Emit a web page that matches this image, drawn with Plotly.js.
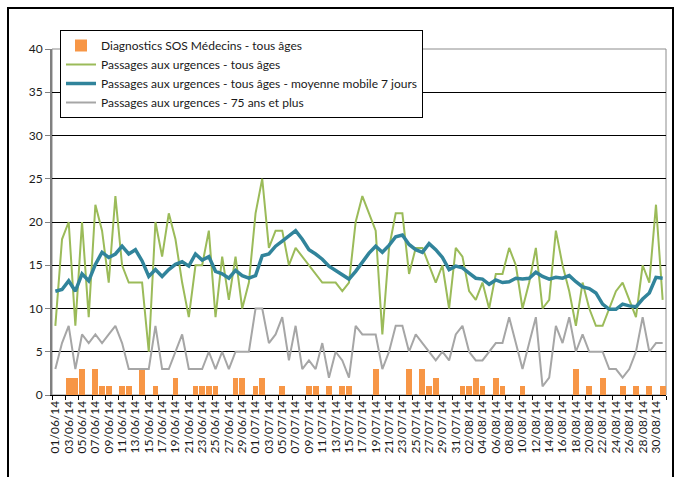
<!DOCTYPE html>
<html>
<head>
<meta charset="utf-8">
<script src="https://cdn.plot.ly/plotly-3.0.1.min.js"></script>
<style>
  html, body { margin: 0; padding: 0; background: #fff; }
  #chart { width: 684px; height: 477px; }
</style>
</head>
<body>
<div id="chart"></div>
<script>
// Tick labels (every second day, 01/06/14 -> 30/08/14)
const tickLabels = ["01/06/14","03/06/14","05/06/14","07/06/14","09/06/14","11/06/14","13/06/14","15/06/14","17/06/14","19/06/14","21/06/14","23/06/14","25/06/14","27/06/14","29/06/14","01/07/14","03/07/14","05/07/14","07/07/14","09/07/14","11/07/14","13/07/14","15/07/14","17/07/14","19/07/14","21/07/14","23/07/14","25/07/14","27/07/14","29/07/14","31/07/14","02/08/14","04/08/14","06/08/14","08/08/14","10/08/14","12/08/14","14/08/14","16/08/14","18/08/14","20/08/14","22/08/14","24/08/14","26/08/14","28/08/14","30/08/14"];

// Diagnostics SOS Médecins - tous âges (daily)
const sosMedecins = [0,0,2,2,3,0,3,1,1,0, 1,1,0,3,0,1,0,0,2,0, 0,1,1,1,1,0,0,2,2,0, 1,2,0,0,1,0,0,0,1,1, 0,1,0,1,1,0,0,0,3,0, 0,0,0,3,0,3,1,2,0,0, 0,1,1,2,1,0,2,1,0,0, 1,0,0,0,0,0,0,0,3,0, 1,0,2,0,0,1,0,1,0,1, 0,1];

// Passages aux urgences - tous âges
const urgTous = [8,18,20,8,20,9,22,19,13,23, 15,13,13,13,5,20,16,21,18,13, 9,15,15,19,9,16,11,16,10,13, 21,25,17,19,19,15,17,16,15,14, 13,13,13,12,13,20,23,21,19,7, 17,21,21,14,17,17,15,13,15,10, 17,16,12,11,13,10,14,14,17,15, 10,13,17,10,11,19,15,12,8,13, 10,8,8,10,12,13,11,9,15,13, 22,11];

// Passages aux urgences - tous âges - moyenne mobile 7 jours
const urgMoy7 = [12.0,12.2,13.2,12.0,14.0,13.2,15.1,16.5,15.9,16.3, 17.2,16.3,16.8,15.5,13.7,14.5,13.7,14.5,15.1,15.4, 14.9,16.3,15.6,16.0,14.3,14.0,13.5,14.4,13.8,13.5, 13.8,16.1,16.3,17.2,17.8,18.4,19.0,18.0,16.8,16.3, 15.7,14.9,14.4,13.8,13.4,14.3,15.4,16.4,17.2,16.5, 17.3,18.3,18.5,17.4,16.8,16.5,17.5,16.8,15.9,14.5, 14.9,14.7,14.1,13.5,13.4,12.8,13.3,13.0,13.1,13.5, 13.4,13.5,14.2,13.7,13.4,13.6,13.5,13.8,13.1,12.5, 12.3,11.8,10.5,9.9,9.9,10.5,10.3,10.2,11.1,11.8, 13.6,13.5];

// Passages aux urgences - 75 ans et plus
const urg75 = [3,6,8,3,7,6,7,6,7,8, 6,3,3,3,3,8,3,3,5,7, 3,3,3,5,3,5,3,5,5,5, 10,10,6,7,9,4,8,3,4,3, 6,2,5,4,2,8,7,7,7,3, 5,8,8,5,7,6,5,4,5,4, 7,8,5,4,4,5,6,6,9,6, 3,6,9,1,2,8,6,9,5,7, 5,5,5,3,3,2,3,5,9,5, 6,6];

const dayIdx = urgTous.map((_, i) => i);
const tickPos = tickLabels.map((_, k) => 2 * k);

const FONT = "Lato, 'Open Sans', sans-serif";

const traces = [
  { type: 'bar', x: dayIdx, y: sosMedecins, name: 'Diagnostics SOS Médecins - tous âges',
    marker: { color: '#F79646', line: { width: 0 } }, width: 0.88 },
  { type: 'scatter', mode: 'lines', x: dayIdx, y: urgTous, name: 'Passages aux urgences - tous âges',
    line: { color: '#9BBB59', width: 2 } },
  { type: 'scatter', mode: 'lines', x: dayIdx, y: urgMoy7, name: 'Passages aux urgences - tous âges - moyenne mobile 7 jours',
    line: { color: '#31849B', width: 3.5 } },
  { type: 'scatter', mode: 'lines', x: dayIdx, y: urg75, name: 'Passages aux urgences - 75 ans et plus',
    line: { color: '#A6A6A6', width: 2 } }
];

const plotL = 52, plotR = 666, plotT = 49, plotB = 395;
const W = 684, H = 477;
const px = v => (v - plotL) / (plotR - plotL);
const py = v => (plotB - v) / (plotB - plotT);

const layout = {
  width: W, height: H,
  margin: { l: plotL, r: W - plotR, t: plotT, b: H - plotB, pad: 0 },
  paper_bgcolor: '#fff', plot_bgcolor: '#fff',
  font: { family: FONT, size: 12, color: '#1a1a1a' },
  showlegend: true,
  bargap: 0,
  legend: {
    x: px(60), y: py(30), xanchor: 'left', yanchor: 'top',
    bgcolor: '#fff', bordercolor: '#000', borderwidth: 1,
    font: { family: FONT, size: 12, color: '#1a1a1a' },
    traceorder: 'normal', itemwidth: 30, tracegroupgap: 0
  },
  xaxis: {
    range: [-0.5, 91.5], showgrid: false, zeroline: false,
    showline: true, linecolor: '#000', linewidth: 1,
    tickmode: 'array', tickvals: tickPos, ticktext: tickLabels,
    tickangle: -90, ticks: '', tickfont: { family: FONT, size: 12, color: '#1a1a1a' },
    minor: { tick0: -0.5, dtick: 2, ticks: 'outside', ticklen: 4, tickcolor: '#000', tickwidth: 1, showgrid: false }
  },
  yaxis: {
    range: [0, 40], dtick: 5, tick0: 0, showgrid: true, gridcolor: '#000', gridwidth: 1,
    zeroline: false, showline: true, linecolor: '#808080', linewidth: 2,
    ticks: 'outside', ticklen: 5, tickcolor: '#808080', tickwidth: 1,
    tickfont: { family: FONT, size: 12, color: '#1a1a1a' }
  },
  shapes: [
    { type: 'rect', xref: 'paper', yref: 'paper', x0: 0, x1: 1, y0: 0, y1: 1,
      line: { color: '#8c8c8c', width: 1 }, layer: 'below' },
    { type: 'rect', xref: 'paper', yref: 'paper', x0: px(8), x1: px(673), y0: py(490), y1: py(8),
      line: { color: '#000', width: 2 }, fillcolor: 'rgba(0,0,0,0)' }
  ]
};

Plotly.newPlot('chart', traces, layout, { displayModeBar: false, staticPlot: true });
</script>
</body>
</html>
